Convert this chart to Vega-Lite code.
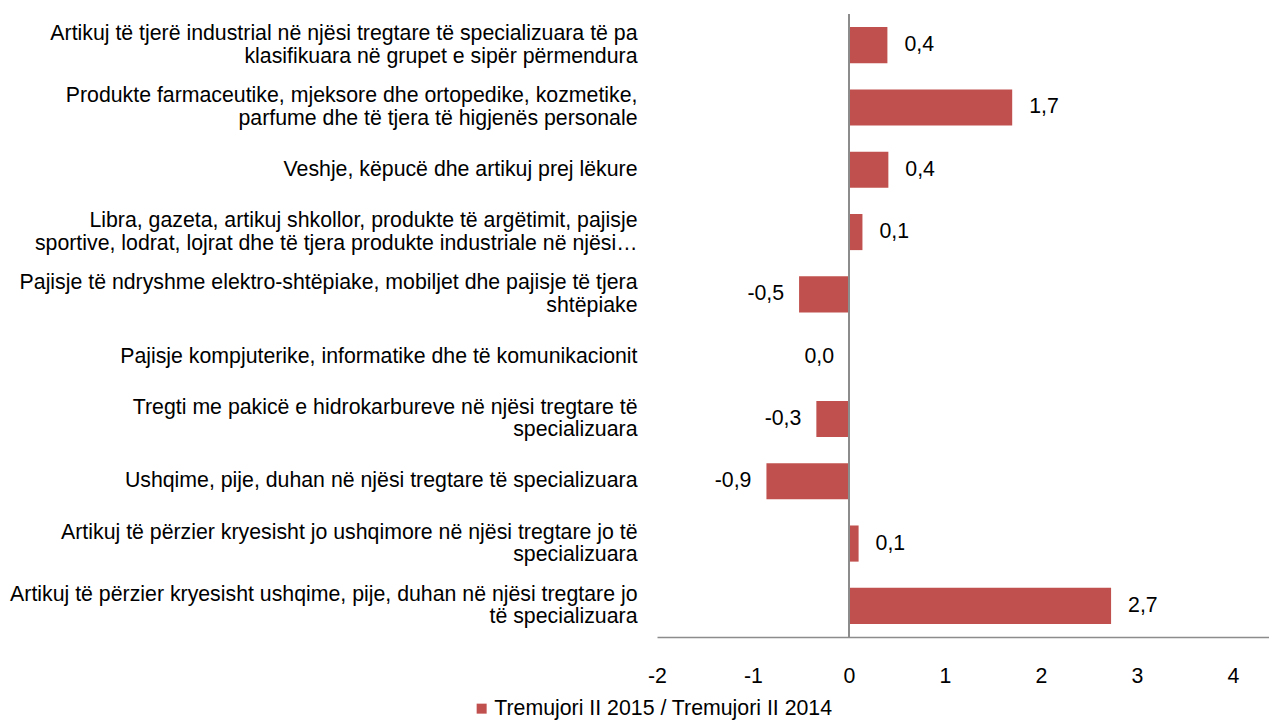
{
  "$schema": "https://vega.github.io/schema/vega-lite/v6.json",
  "autosize": "none",
  "width": 612,
  "height": 623,
  "padding": {"left": 657, "top": 14, "right": 0, "bottom": 85},
  "background": "white",
  "data": {
    "values": [
      {"cat": "Artikuj të tjerë industrial në njësi tregtare të specializuara të pa|klasifikuara në grupet e sipër përmendura", "v": 0.4, "s": "Tremujori II 2015 / Tremujori II 2014"},
      {"cat": "Produkte farmaceutike, mjeksore dhe ortopedike, kozmetike,|parfume dhe të tjera të higjenës personale", "v": 1.7, "s": "Tremujori II 2015 / Tremujori II 2014"},
      {"cat": "Veshje, këpucë dhe artikuj prej lëkure", "v": 0.41, "s": "Tremujori II 2015 / Tremujori II 2014"},
      {"cat": "Libra, gazeta, artikuj shkollor, produkte të argëtimit, pajisje|sportive, lodrat, lojrat dhe të tjera produkte industriale në njësi…", "v": 0.14, "s": "Tremujori II 2015 / Tremujori II 2014"},
      {"cat": "Pajisje të ndryshme elektro-shtëpiake, mobiljet dhe pajisje të tjera|shtëpiake", "v": -0.52, "s": "Tremujori II 2015 / Tremujori II 2014"},
      {"cat": "Pajisje kompjuterike, informatike dhe të komunikacionit", "v": 0.0, "s": "Tremujori II 2015 / Tremujori II 2014"},
      {"cat": "Tregti me pakicë e hidrokarbureve në njësi tregtare të|specializuara", "v": -0.34, "s": "Tremujori II 2015 / Tremujori II 2014"},
      {"cat": "Ushqime, pije, duhan në njësi tregtare të specializuara", "v": -0.86, "s": "Tremujori II 2015 / Tremujori II 2014"},
      {"cat": "Artikuj të përzier kryesisht jo ushqimore në njësi tregtare jo të|specializuara", "v": 0.1, "s": "Tremujori II 2015 / Tremujori II 2014"},
      {"cat": "Artikuj të përzier kryesisht ushqime, pije, duhan në njësi tregtare jo|të specializuara", "v": 2.73, "s": "Tremujori II 2015 / Tremujori II 2014"}
    ]
  },
  "layer": [
    {
      "mark": {"type": "bar", "color": "#C0504D"},
      "encoding": {
        "y": {
          "field": "cat",
          "type": "nominal",
          "sort": null,
          "title": null,
          "scale": {"paddingInner": 0.42, "paddingOuter": 0.21},
          "axis": {
            "domain": false,
            "ticks": false,
            "labelPadding": 20,
            "labelFontSize": 21.3,
            "labelFont": "Liberation Sans",
            "labelColor": "#000000",
            "labelLimit": 700,
            "labelLineHeight": 22.5,
            "labelExpr": "split(datum.label, '|')",
            "labelOffset": {"condition": {"test": "indexof(datum.value, '|') >= 0", "value": -11}, "value": 0}
          }
        },
        "x": {
          "field": "v",
          "type": "quantitative",
          "title": null,
          "scale": {"domain": [-2, 4.375], "nice": false, "zero": false},
          "axis": {
            "values": [-2, -1, 0, 1, 2, 3, 4],
            "grid": false,
            "ticks": false,
            "domainColor": "#8C8C8C",
            "domainWidth": 1.5,
            "labelPadding": 28,
            "labelFontSize": 21.3,
            "labelFont": "Liberation Sans",
            "labelColor": "#000000",
            "format": "d",
            "labelFlush": false
          }
        },
        "color": {
          "field": "s",
          "type": "nominal",
          "title": null,
          "scale": {"range": ["#C0504D"]},
          "legend": {
            "orient": "none",
            "legendX": -186,
            "legendY": 684,
            "symbolType": "square",
            "symbolSize": 100,
            "symbolStrokeWidth": 0,
            "labelFontSize": 21.3,
            "labelFont": "Liberation Sans",
            "labelColor": "#000000",
            "labelOffset": 2,
            "padding": 0,
            "labelLimit": 600
          }
        }
      }
    },
    {
      "mark": {"type": "rule", "color": "#8C8C8C", "strokeWidth": 1.5},
      "encoding": {"x": {"datum": 0, "type": "quantitative"}}
    },
    {
      "transform": [{"filter": "datum.v > 0"}],
      "mark": {"type": "text", "align": "left", "dx": 17, "fontSize": 21.3, "font": "Liberation Sans", "color": "#000000"},
      "encoding": {
        "y": {"field": "cat", "type": "nominal", "sort": null},
        "x": {"field": "v", "type": "quantitative"},
        "text": {"field": "v", "type": "quantitative", "format": ".1f"}
      }
    },
    {
      "transform": [{"filter": "datum.v <= 0"}],
      "mark": {"type": "text", "align": "right", "dx": -15, "fontSize": 21.3, "font": "Liberation Sans", "color": "#000000"},
      "encoding": {
        "y": {"field": "cat", "type": "nominal", "sort": null},
        "x": {"field": "v", "type": "quantitative"},
        "text": {"field": "v", "type": "quantitative", "format": ".1f"}
      }
    }
  ],
  "config": {
    "view": {"stroke": null},
    "locale": {
      "number": {"decimal": ",", "thousands": ".", "grouping": [3], "currency": ["", ""], "minus": "-"}
    }
  }
}
